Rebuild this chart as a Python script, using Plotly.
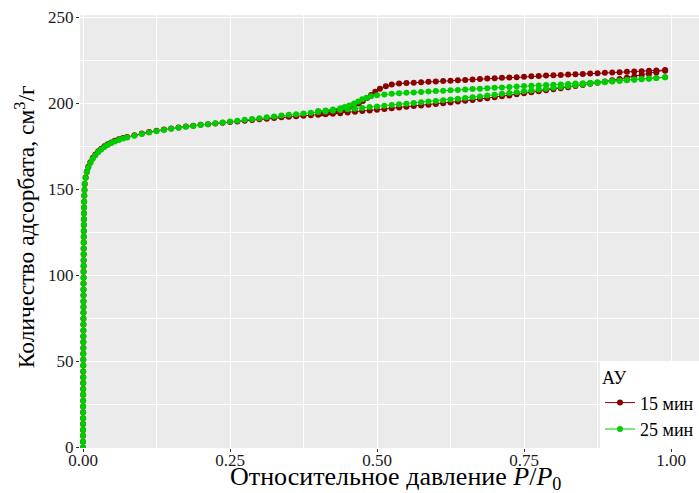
import plotly.graph_objects as go

# ---------------- data ----------------
series_names = ["15 мин", "25 мин"]
series_colors = ["#8B0000", "#00CD00"]

# near-vertical part at P/P0 ~ 0 (shared by both samples)
vert_x = [0.0000, 0.0000, 0.0001, 0.0001, 0.0001, 0.0002, 0.0002, 0.0002, 0.0003, 0.0003,
          0.0003, 0.0004, 0.0004, 0.0004, 0.0005, 0.0005, 0.0005, 0.0006, 0.0006, 0.0006,
          0.0007, 0.0007, 0.0007, 0.0008, 0.0008, 0.0008, 0.0009, 0.0009, 0.0009, 0.0010,
          0.0010, 0.0011, 0.0011, 0.0012, 0.0012, 0.0013, 0.0013, 0.0014, 0.0015, 0.0016,
          0.0017, 0.0018, 0.0020, 0.0022, 0.0025, 0.0029]
vert_y = [0.0, 3.4, 6.8, 10.2, 13.6, 17.0, 20.4, 23.8, 27.2, 30.6,
          34.0, 37.4, 40.8, 44.2, 47.6, 51.0, 54.4, 57.8, 61.2, 64.6,
          68.0, 71.4, 74.8, 78.2, 81.6, 85.0, 88.4, 91.8, 95.2, 98.6,
          102.0, 105.4, 108.8, 112.2, 115.6, 119.0, 122.4, 125.8, 129.2, 132.6,
          136.0, 139.4, 142.8, 146.2, 149.6, 153.0]

# adsorption branch (knee + plateau), shared pressures
ads_x = [0.0045, 0.0065, 0.009, 0.0125, 0.0165, 0.021, 0.026, 0.031, 0.0365, 0.042,
         0.048, 0.054, 0.061, 0.068,
         0.075, 0.0875, 0.1, 0.1125, 0.125, 0.1375, 0.15, 0.1625, 0.175, 0.1875,
         0.2, 0.2125, 0.225, 0.2375, 0.25, 0.2625, 0.275, 0.2875, 0.3, 0.3125,
         0.325, 0.3375, 0.35, 0.3625, 0.375, 0.3875, 0.4, 0.4125, 0.425, 0.4375,
         0.45, 0.4625, 0.475, 0.4875, 0.5, 0.5125, 0.525, 0.5375, 0.55, 0.5625,
         0.575, 0.5875, 0.6, 0.6125, 0.625, 0.6375, 0.65, 0.6625, 0.675, 0.6875,
         0.7, 0.7125, 0.725, 0.7375, 0.75, 0.7625, 0.775, 0.7875, 0.8, 0.8125,
         0.825, 0.8375, 0.85, 0.8625, 0.875, 0.8875, 0.9, 0.9125, 0.925, 0.9375,
         0.95, 0.9625, 0.975, 0.99]

ads_y_15 = [156.8, 160.2, 163.0, 165.7, 168.1, 170.2, 172.0, 173.5, 174.9, 176.1,
            177.2, 178.1, 179.0, 179.8,
            180.3, 181.4, 182.4, 183.2, 184.0, 184.7, 185.3, 185.9, 186.4, 186.9,
            187.4, 187.8, 188.2, 188.6, 189.0, 189.4, 189.8, 190.2, 190.6, 191.0,
            191.4, 191.8, 192.1, 192.4, 192.7, 193.0, 193.3, 193.6, 193.9, 194.2,
            194.6, 195.0, 195.4, 195.8, 196.2, 196.6, 197.0, 197.5, 197.9, 198.3,
            198.7, 199.1, 199.5, 199.9, 200.4, 200.9, 201.4, 201.9, 202.4, 202.9,
            203.4, 204.0, 204.5, 205.1, 205.7, 206.3, 206.9, 207.5, 208.1, 208.7,
            209.3, 209.9, 210.5, 211.2, 211.9, 212.6, 213.3, 214.0, 214.8, 215.5,
            216.2, 217.0, 217.8, 218.8]

ads_y_25 = [156.5, 159.8, 162.6, 165.3, 167.7, 169.8, 171.6, 173.1, 174.5, 175.7,
            176.8, 177.7, 178.6, 179.4,
            180.0, 181.1, 182.1, 182.9, 183.7, 184.4, 185.1, 185.7, 186.3, 186.8,
            187.3, 187.8, 188.3, 188.8, 189.3, 189.8, 190.3, 190.8, 191.3, 191.8,
            192.3, 192.8, 193.2, 193.6, 194.0, 194.4, 194.8, 195.2, 195.6, 196.0,
            196.4, 196.8, 197.2, 197.7, 198.1, 198.5, 198.9, 199.3, 199.7, 200.1,
            200.5, 200.9, 201.3, 201.7, 202.1, 202.5, 203.0, 203.4, 203.9, 204.4,
            204.9, 205.4, 205.9, 206.4, 206.9, 207.4, 207.9, 208.4, 208.9, 209.4,
            209.9, 210.4, 210.9, 211.4, 211.8, 212.2, 212.6, 213.0, 213.4, 213.7,
            214.0, 214.3, 214.6, 215.0]

# desorption branches
des_x_15 = [0.99, 0.975, 0.9625, 0.95, 0.9375, 0.925, 0.9125, 0.9, 0.8875, 0.875,
            0.8625, 0.85, 0.8375, 0.825, 0.8125, 0.8, 0.7875, 0.775, 0.7625, 0.75,
            0.7375, 0.725, 0.7125, 0.7, 0.6875, 0.675, 0.6625, 0.65, 0.6375, 0.625,
            0.6125, 0.6, 0.5875, 0.575, 0.5625, 0.55, 0.5375,
            0.525, 0.515, 0.505, 0.497, 0.49, 0.483, 0.476, 0.469, 0.461, 0.452,
            0.4425, 0.43, 0.4175, 0.405]
des_y_15 = [219.2, 219.0, 218.8, 218.6, 218.4, 218.2, 218.0, 217.8, 217.6, 217.4,
            217.2, 217.0, 216.8, 216.6, 216.4, 216.2, 216.0, 215.8, 215.6, 215.3,
            215.1, 214.9, 214.7, 214.5, 214.3, 214.0, 213.8, 213.5, 213.3, 213.0,
            212.8, 212.6, 212.4, 212.2, 211.9, 211.7, 211.4,
            210.8, 209.8, 208.3, 206.6, 204.8, 203.0, 201.3, 199.8, 198.4, 197.2,
            196.2, 195.3, 194.6, 194.0]

des_x_25 = [0.99, 0.975, 0.9625, 0.95, 0.9375, 0.925, 0.9125, 0.9, 0.8875, 0.875,
            0.8625, 0.85, 0.8375, 0.825, 0.8125, 0.8, 0.7875, 0.775, 0.7625, 0.75,
            0.7375, 0.725, 0.7125, 0.7, 0.6875, 0.675, 0.6625, 0.65, 0.6375, 0.625,
            0.6125, 0.6, 0.5875, 0.575, 0.5625, 0.55, 0.5375, 0.525, 0.5125, 0.5,
            0.49, 0.482, 0.475, 0.468, 0.461, 0.453, 0.445, 0.4375, 0.425, 0.4125, 0.4]
des_y_25 = [215.0, 214.6, 214.2, 213.9, 213.6, 213.3, 213.0, 212.7, 212.4, 212.2,
            211.9, 211.6, 211.4, 211.1, 210.9, 210.7, 210.5, 210.3, 210.1, 209.9,
            209.6, 209.4, 209.1, 208.9, 208.7, 208.4, 208.2, 208.0, 207.7, 207.5,
            207.2, 207.0, 206.7, 206.5, 206.2, 206.0, 205.7, 205.4, 205.0, 204.6,
            204.0, 203.2, 202.2, 201.0, 199.8, 198.7, 197.8, 197.1, 196.3, 195.8, 195.4]

x_ticks = [0, 0.25, 0.5, 0.75, 1.0]
x_tick_labels = ["0.00", "0.25", "0.50", "0.75", "1.00"]
y_ticks = [0, 50, 100, 150, 200, 250]
y_tick_labels = ["0", "50", "100", "150", "200", "250"]

x_title = "Относительное давление <i>P</i>/<i>P</i><sub>0</sub>"
y_title = "Количество адсорбата, см<sup>3</sup>/г"

# ---------------- figure ----------------
FONT = "Liberation Serif, Times New Roman, serif"

series_x = [vert_x + ads_x + des_x_15, vert_x + ads_x + des_x_25]
series_y = [vert_y + ads_y_15 + des_y_15, vert_y + ads_y_25 + des_y_25]

fig = go.Figure()
for name, color, xs, ys in zip(series_names, series_colors, series_x, series_y):
    fig.add_trace(go.Scatter(
        x=xs, y=ys, name=name, mode="lines+markers",
        line=dict(color=color, width=1),
        marker=dict(color=color, size=6),
    ))

axis_common = dict(
    showgrid=True, gridcolor="white", gridwidth=1.3,
    zeroline=False, showline=False, automargin=False,
    ticks="outside", ticklen=3, tickwidth=1, tickcolor="#333333",
    tickfont=dict(family=FONT, size=17, color="#1a1a1a"),
)

fig.update_layout(
    width=699, height=493,
    margin=dict(l=80, r=0, t=15, b=45),
    paper_bgcolor="white", plot_bgcolor="#EBEBEB",
    font=dict(family=FONT, color="black"),
    xaxis=dict(
        range=[-0.0051, 1.0476], tickvals=x_ticks, ticktext=x_tick_labels,
        minor=dict(tickvals=[0.125, 0.375, 0.625, 0.875], showgrid=True,
                   gridcolor="white", gridwidth=0.6, ticks=""),
        ticklabelstandoff=-6,
        **axis_common,
    ),
    yaxis=dict(
        range=[-0.3, 251.2], tickvals=y_ticks, ticktext=y_tick_labels,
        minor=dict(tickvals=[25, 75, 125, 175, 225], showgrid=True,
                   gridcolor="white", gridwidth=0.6, ticks=""),
        ticklabelstandoff=-1,
        **axis_common,
    ),
    annotations=[
        dict(text=x_title, xref="paper", yref="paper", x=0.51, y=-0.069,
             xanchor="center", yanchor="middle", showarrow=False,
             font=dict(family=FONT, size=26, color="black")),
        dict(text=y_title, xref="paper", yref="paper", x=-0.089, y=0.512,
             xanchor="center", yanchor="middle", showarrow=False, textangle=-90,
             font=dict(family=FONT, size=23.5, color="black")),
    ],
    legend=dict(
        x=1, xanchor="right", y=0, yanchor="bottom",
        bgcolor="white",
        title=dict(text="АУ", font=dict(family=FONT, size=18, color="black")),
        font=dict(family=FONT, size=18, color="black"),
        itemwidth=30,
        tracegroupgap=2,
    ),
    showlegend=True,
)

fig.write_html("out.html", config={"displayModeBar": False},
               post_script="document.body.style.margin='0';document.body.style.overflow='hidden';")
